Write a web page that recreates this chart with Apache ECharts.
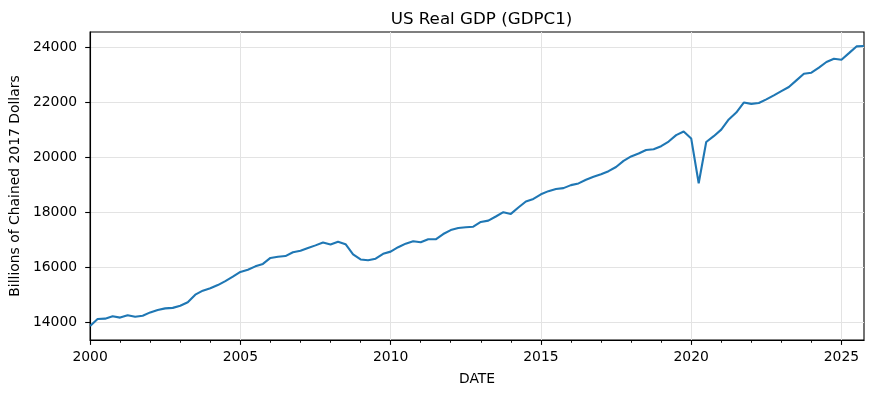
<!DOCTYPE html>
<html>
<head>
<meta charset="utf-8">
<script src="https://cdn.jsdelivr.net/npm/echarts@6/dist/echarts.min.js"></script>
<style>
html,body{margin:0;padding:0;background:#fff;}
#chart{width:874px;height:395px;}
</style>
</head>
<body>
<div id="chart"></div>
<script>
// Quarterly US Real GDP (billions of chained 2017 dollars), 2000Q1 .. 2025Q4
const startYear = 2000;
const gdp2000s = [
  13878.1, 14130.9, 14145.3, 14229.8,
  14183.1, 14271.7, 14214.5, 14253.6,
  14372.8, 14460.8, 14519.6, 14537.6,
  14614.1, 14743.6, 15017.0, 15162.8,
  15248.7, 15366.9, 15512.6, 15670.9,
  15844.7, 15922.8, 16047.6, 16136.7,
  16353.8, 16396.2, 16420.7, 16561.9,
  16611.7, 16713.3, 16809.6, 16915.2,
  16843.0, 16943.3, 16854.3, 16485.4,
  16298.3, 16269.1, 16326.5, 16502.8
];
const gdp2010s = [
  16582.7, 16743.2, 16872.3, 16960.9,
  16920.6, 17035.1, 17031.3, 17222.6,
  17367.0, 17444.5, 17469.7, 17489.9,
  17662.4, 17709.7, 17860.5, 18016.2,
  17954.0, 18185.9, 18406.9, 18500.0,
  18666.6, 18782.2, 18857.4, 18892.2,
  19001.7, 19062.7, 19197.9, 19304.5,
  19398.3, 19507.0, 19660.8, 19882.4,
  20044.1, 20150.5, 20276.2, 20304.9,
  20415.2, 20584.5, 20817.6, 20951.1
];
const gdp2020s = [
  20700.0, 19070.0, 20570.0, 20780.0,
  21018.0, 21390.0, 21640.0, 22005.0,
  21955.0, 21985.0, 22120.0, 22266.0,
  22420.0, 22570.0, 22810.0, 23050.0,
  23090.0, 23275.0, 23478.0, 23595.0,
  23560.0, 23800.0, 24045.0, 24060.0
];
const gdp = gdp2000s.concat(gdp2010s, gdp2020s);

const xMajorTicks = [2000, 2005, 2010, 2015, 2020, 2025];
const xMinorTicks = [2001,2002,2003,2004,2006,2007,2008,2009,2011,2012,2013,2014,2016,2017,2018,2019,2021,2022,2023,2024];
const yTicks = [14000, 16000, 18000, 20000, 22000, 24000];

const titleText = 'US Real GDP (GDPC1)';
const xName = 'DATE';
const yName = 'Billions of Chained 2017 Dollars';

// quarter position on a decimal-year axis
const points = gdp.map((v, i) => [startYear + Math.floor(i / 4) + (i % 4) / 4, v]);
const xMin = points[0][0];
const xMax = points[points.length - 1][0];
const vMin = Math.min(...gdp), vMax = Math.max(...gdp);
const pad = (vMax - vMin) * 0.05;

const FONT = 'DejaVu Sans';
const chart = echarts.init(document.getElementById('chart'), null, {renderer: 'canvas'});
chart.setOption({
  animation: false,
  backgroundColor: '#fff',
  title: {
    text: titleText, left: 476.5, top: 6, textAlign: 'center',
    textStyle: {fontFamily: FONT, fontSize: 16.7, fontWeight: 'normal', color: '#000'}
  },
  grid: {left: 89, right: 10, top: 32, bottom: 55, show: true, borderColor: '#000', borderWidth: 1.1, backgroundColor: 'transparent'},
  xAxis: [{
    type: 'value', min: xMin, max: xMax, interval: 5,
    name: xName, nameLocation: 'middle', nameGap: 32,
    nameTextStyle: {fontFamily: FONT, fontSize: 13.9, color: '#000'},
    axisLine: {show: true, onZero: false, lineStyle: {color: '#000', width: 1.1}},
    axisTick: {show: true, length: 4.9, customValues: xMajorTicks, lineStyle: {color: '#000', width: 1.1}},
    axisLabel: {customValues: xMajorTicks, fontFamily: FONT, fontSize: 13.9, color: '#000', margin: 10, formatter: v => String(v)},
    splitLine: {show: true, lineStyle: {color: '#e3e3e3', width: 1}}
  }, {
    type: 'value', min: xMin, max: xMax, position: 'bottom',
    axisLine: {show: false},
    axisTick: {show: true, length: 2.8, customValues: xMinorTicks, lineStyle: {color: '#000', width: 0.9}},
    axisLabel: {show: false},
    splitLine: {show: false}
  }],
  yAxis: {
    type: 'value', min: vMin - pad, max: vMax + pad,
    name: yName, nameLocation: 'middle', nameGap: 67,
    nameTextStyle: {fontFamily: FONT, fontSize: 13.9, color: '#000'},
    axisLine: {show: true, onZero: false, lineStyle: {color: '#000', width: 1.1}},
    axisTick: {show: true, length: 4.9, customValues: yTicks, lineStyle: {color: '#000', width: 1.1}},
    axisLabel: {customValues: yTicks, fontFamily: FONT, fontSize: 13.9, color: '#000', margin: 13, formatter: v => String(v)},
    splitLine: {show: true, lineStyle: {color: '#e3e3e3', width: 1}}
  },
  series: [{
    type: 'line', xAxisIndex: 0, data: points, showSymbol: false, symbol: 'none',
    lineStyle: {color: '#1f77b4', width: 2.1}, itemStyle: {color: '#1f77b4'}, clip: true
  }]
});
</script>
</body>
</html>
